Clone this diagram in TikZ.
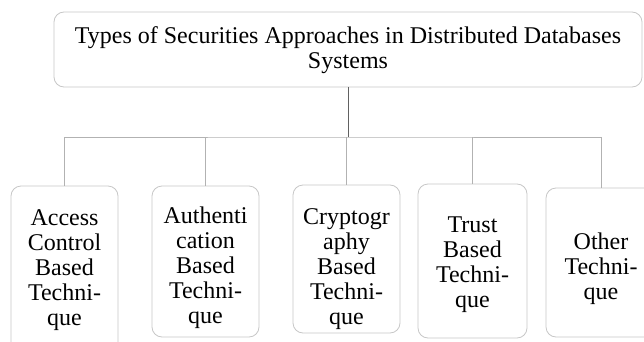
\documentclass[tikz,border=0pt]{standalone}
\usepackage{fontspec}
\setmainfont{Liberation Serif}
\begin{document}
\begin{tikzpicture}[x=1pt,y=1pt,
  boxstyle/.style={draw=black!22,line width=0.8pt,rounded corners=10pt,inner sep=0pt},
  txtstyle/.style={align=center,inner sep=0pt,font=\fontsize{24}{25}\selectfont},
  trunkline/.style={draw=black!62,line width=0.8pt},
  busline/.style={draw=black!30,line width=0.8pt}]
\useasboundingbox (0,0) rectangle (644,341);
\clip (0,0) rectangle (644,341);
\node[boxstyle,minimum width=588pt,minimum height=75pt] (top) at (348,291.5) {};
\node[txtstyle] (ttop) at (348,291) {Types of Securities Approaches in Distributed Databases\\Systems};
% children boxes
\node[boxstyle,minimum width=107pt,minimum height=169pt] (c1) at (64.5,70.5) {};
\node[boxstyle,minimum width=107pt,minimum height=151pt] (c2) at (205.5,79.5) {};
\node[boxstyle,minimum width=107pt,minimum height=148pt] (c3) at (346.5,82) {};
\node[boxstyle,minimum width=109pt,minimum height=154pt] (c4) at (472.5,80) {};
\node[boxstyle,minimum width=110pt,minimum height=149pt] (c5) at (601,78.5) {};
% texts
\node[txtstyle] (t1) at (64.5,71) {Access\\Control\\Based\\Techni-\\que};
\node[txtstyle] (t2) at (205.5,73.5) {Authenti\\cation\\Based\\Techni-\\que};
\node[txtstyle] (t3) at (346.5,72) {Cryptogr\\aphy\\Based\\Techni-\\que};
\node[txtstyle] (t4) at (472.5,76.5) {Trust\\Based\\Techni-\\que};
\node[txtstyle] (t5) at (601,72.5) {Other\\Techni-\\que};
% connectors
\coordinate (bus) at (348,204);
\draw[busline] (c1.north) |- (bus) -| (c5.north);
\draw[busline] (c2.north) -- (c2.north |- bus);
\draw[busline] (c3.north) -- (c3.north |- bus);
\draw[busline] (c4.north) -- (c4.north |- bus);
\draw[trunkline] (top.south) -- (bus);
\end{tikzpicture}
\end{document}
